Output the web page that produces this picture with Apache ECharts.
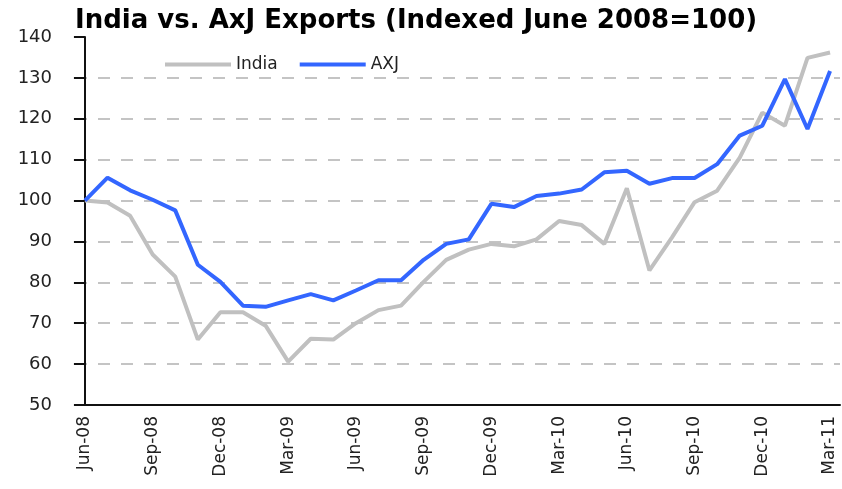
<!DOCTYPE html>
<html>
<head>
<meta charset="utf-8">
<script src="https://cdn.jsdelivr.net/npm/echarts@6/dist/echarts.min.js"></script>
<style>
  html, body { margin: 0; padding: 0; background: #fff; }
  #chart { width: 842px; height: 489px; }
</style>
</head>
<body>
<div id="chart"></div>
<script>
// monthly, Jun-08 .. Mar-11
const months = [
  'Jun-08', 'Jul-08', 'Aug-08', 'Sep-08', 'Oct-08', 'Nov-08', 'Dec-08', 'Jan-09', 'Feb-09', 'Mar-09',
  'Apr-09', 'May-09', 'Jun-09', 'Jul-09', 'Aug-09', 'Sep-09', 'Oct-09', 'Nov-09', 'Dec-09', 'Jan-10',
  'Feb-10', 'Mar-10', 'Apr-10', 'May-10', 'Jun-10', 'Jul-10', 'Aug-10', 'Sep-10', 'Oct-10', 'Nov-10',
  'Dec-10', 'Jan-11', 'Feb-11', 'Mar-11'
];
const india = [
  100, 99.5, 96.3, 86.8, 81.4, 66, 72.7, 72.7, 69.4, 60.6,
  66.2, 66, 70, 73.2, 74.3, 80.1, 85.5, 88, 89.4, 88.8,
  90.5, 95, 94, 89.4, 103, 82.9, 91, 99.6, 102.4, 110.5,
  121.5, 118.3, 134.9, 136.2
];
const axj = [
  100, 105.6, 102.5, 100.2, 97.6, 84.3, 80.1, 74.3, 74, 75.6,
  77.1, 75.6, 78, 80.5, 80.5, 85.5, 89.4, 90.5, 99.2, 98.4,
  101.1, 101.7, 102.7, 106.9, 107.3, 104.1, 105.5, 105.5, 108.9, 115.9,
  118.3, 129.7, 117.5, 131.7
];
// every third month gets a label
const labelIdx = [0, 3, 6, 9, 12, 15, 18, 21, 24, 27, 30, 33];

const toPairs = arr => arr.map((v, i) => [i, v]);

// no dashed line at the top (140)
const gridColors = Array(9).fill('#c4c4c4').concat(['rgba(0,0,0,0)']);

const option = {
  animation: false,
  title: {
    text: 'India vs. AxJ Exports (Indexed June 2008=100)',
    left: 70,
    top: 3,
    textStyle: {
      fontFamily: 'DejaVu Sans',
      fontWeight: 'bold',
      fontSize: 26,
      color: '#000'
    }
  },
  legend: {
    left: 160,
    top: 51,
    icon: 'rect',
    itemWidth: 66,
    itemHeight: 4,
    itemGap: 22,
    textStyle: { fontFamily: 'DejaVu Sans', fontSize: 17, color: '#222' },
    data: ['India', 'AXJ']
  },
  grid: {
    left: 75,
    right: 2,
    top: 37,
    bottom: 84
  },
  xAxis: {
    type: 'value',
    min: -0.44,
    max: 33.44,
    axisLine: { lineStyle: { color: '#111', width: 2 } },
    axisTick: { show: false },
    splitLine: { show: false },
    axisLabel: {
      customValues: labelIdx,
      rotate: 90,
      margin: 11,
      fontFamily: 'DejaVu Sans',
      fontSize: 17,
      color: '#222',
      formatter: v => months[v]
    }
  },
  yAxis: {
    type: 'value',
    min: 50,
    max: 140,
    interval: 10,
    axisLine: { show: true, lineStyle: { color: '#111', width: 2 } },
    axisTick: { show: true, length: 11, lineStyle: { color: '#111', width: 2 } },
    axisLabel: {
      margin: 23,
      fontFamily: 'DejaVu Sans',
      fontSize: 18,
      color: '#222'
    },
    splitLine: {
      show: true,
      lineStyle: { color: gridColors, width: 2, type: [12, 11] }
    }
  },
  series: [
    {
      name: 'India',
      type: 'line',
      symbol: 'none',
      color: '#c0c0c0',
      lineStyle: { width: 4, color: '#c0c0c0' },
      data: toPairs(india)
    },
    {
      name: 'AXJ',
      type: 'line',
      symbol: 'none',
      color: '#3366ff',
      lineStyle: { width: 4, color: '#3366ff' },
      data: toPairs(axj)
    }
  ]
};

const myChart = echarts.init(document.getElementById('chart'));
myChart.setOption(option);
</script>
</body>
</html>
